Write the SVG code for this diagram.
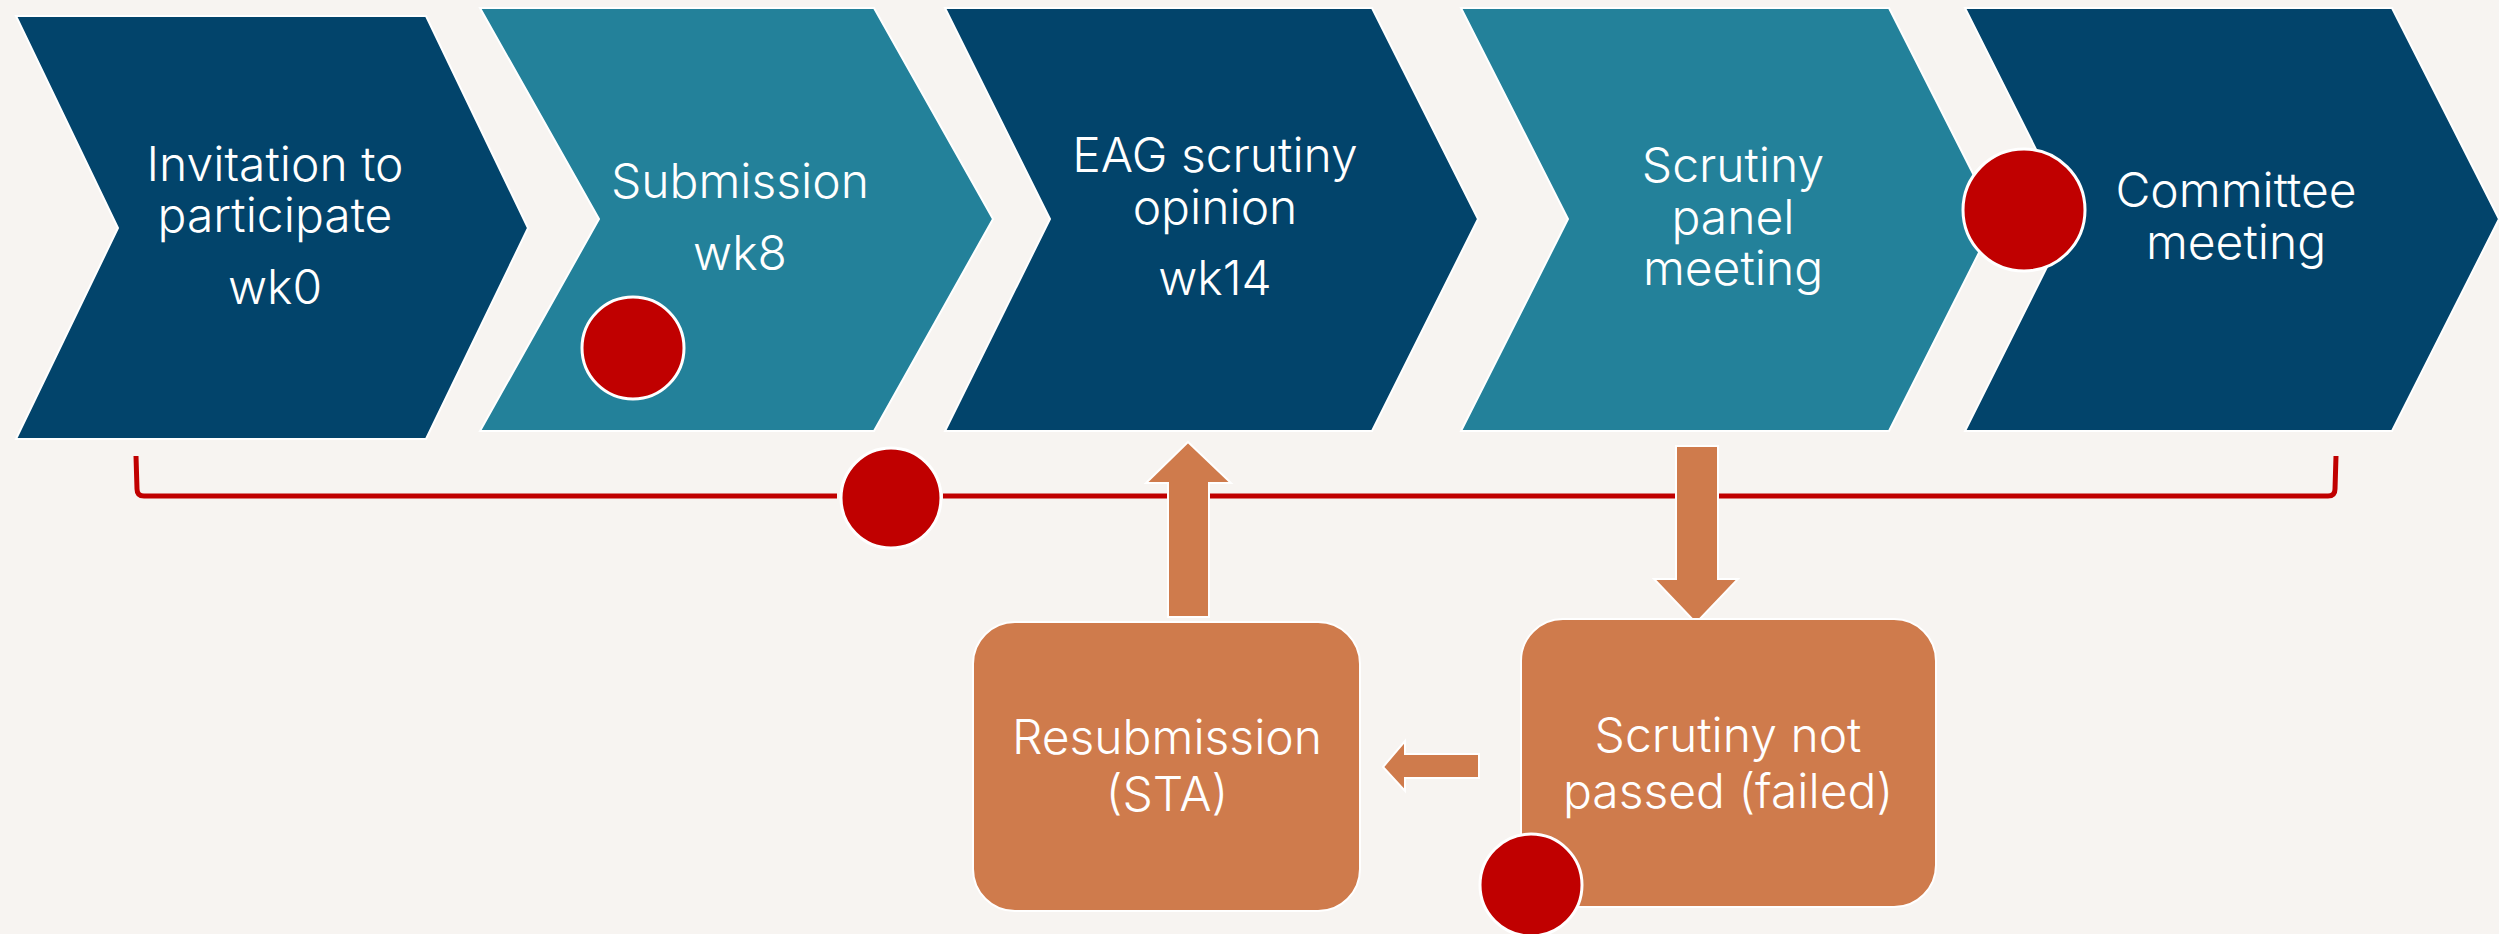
<svg xmlns="http://www.w3.org/2000/svg" width="2499" height="934" viewBox="0 0 2499 934">
<style>
.navy{fill:#02446B;stroke:#FFFFFF;stroke-width:2}
.teal{fill:#23819A;stroke:#FFFFFF;stroke-width:2}
.orange{fill:#CF7B4C;stroke:#FFFFFF;stroke-width:2}
.dot{fill:#C00000;stroke:#FFFFFF;stroke-width:3}
.lbl{font-family:Inter,"Liberation Sans",sans-serif;font-size:48px;font-weight:300;fill:#FFFFFF;text-anchor:middle}
</style>
<rect x="0" y="0" width="2499" height="934" fill="#F7F4F1"/>
<g id="connectors">
<path d="M136,456 L137,489 Q137,496 144,496 L837,496 M943,496 L2328,496 Q2335,496 2335,489 L2336,456" fill="none" stroke="#C00000" stroke-width="5"/>
<polygon class="orange" points="1188,442 1231,483 1209,483 1209,617 1168,617 1168,483 1146,483"/>
<polygon class="orange" points="1676,446 1718,446 1718,579 1738,579 1696,623 1654,579 1676,579"/>
<polygon class="orange" points="1383,767 1405,741 1405,754 1479,754 1479,778 1405,778 1405,791"/>
</g>
<g id="node-invitation">
<polygon class="navy" points="16,16 426,16 528,228 426,439 16,439 118,228"/>
<text class="lbl" x="275" y="181">Invitation to</text>
<text class="lbl" x="275" y="232">participate</text>
<text class="lbl" x="275" y="304">wk0</text>
</g>
<g id="node-submission">
<polygon class="teal" points="480,8 874,8 993,219 874,431 480,431 599,219"/>
<text class="lbl" x="740" y="198">Submission</text>
<text class="lbl" x="740" y="270">wk8</text>
<circle class="dot" cx="633" cy="348" r="51"/>
</g>
<g id="node-eag">
<polygon class="navy" points="945,8 1372,8 1478,219 1372,431 945,431 1050,219"/>
<text class="lbl" x="1215" y="172">EAG scrutiny</text>
<text class="lbl" x="1215" y="224">opinion</text>
<text class="lbl" x="1215" y="295">wk14</text>
</g>
<g id="node-panel">
<polygon class="teal" points="1461,8 1889,8 1996,219 1889,431 1461,431 1568,219"/>
<text class="lbl" x="1733" y="182">Scrutiny</text>
<text class="lbl" x="1733" y="234">panel</text>
<text class="lbl" x="1733" y="285">meeting</text>
</g>
<g id="node-committee">
<polygon class="navy" points="1965,8 2392,8 2499,219 2392,431 1965,431 2071,219"/>
<circle class="dot" cx="2024" cy="210" r="61"/>
<text class="lbl" x="2236" y="207">Committee</text>
<text class="lbl" x="2236" y="259">meeting</text>
</g>
<g id="bracket-dot">
<circle class="dot" cx="891" cy="498" r="50"/>
</g>
<g id="node-resubmission">
<rect class="orange" x="973" y="622" width="387" height="289" rx="42" ry="42"/>
<text class="lbl" x="1167" y="754">Resubmission</text>
<text class="lbl" x="1167" y="811">(STA)</text>
</g>
<g id="node-failed">
<rect class="orange" x="1521" y="619" width="415" height="288" rx="42" ry="42"/>
<text class="lbl" x="1728" y="752">Scrutiny not</text>
<text class="lbl" x="1728" y="808">passed (failed)</text>
<circle class="dot" cx="1531" cy="885" r="51"/>
</g>
</svg>
